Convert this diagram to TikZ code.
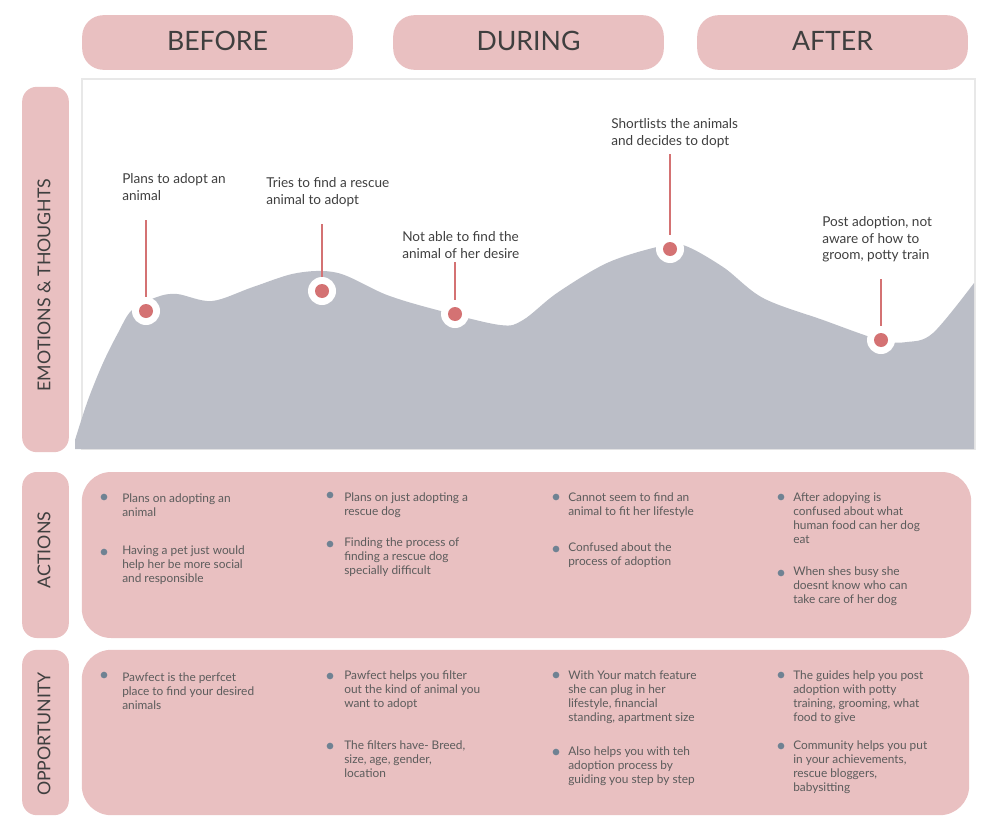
\documentclass[tikz,border=0pt]{standalone}
\usepackage{fontspec}
\setmainfont{Lato}
\definecolor{pinkbox}{HTML}{E9C0C1}
\definecolor{mount}{HTML}{BBBEC7}
\definecolor{reddot}{HTML}{D47273}
\definecolor{txt}{HTML}{3F3F3F}
\definecolor{bul}{HTML}{6F8293}
\definecolor{frame}{HTML}{E8E8E8}
\begin{document}
\begin{tikzpicture}[x=0.75pt,y=-0.75pt,
  hdr/.style={fill=pinkbox, rounded corners=16pt, minimum width=203pt, minimum height=41pt, inner sep=0pt, font=\fontsize{20}{24}\selectfont, text=txt},
  hdrtxt/.style={inner sep=0pt, font=\fontsize{20}{24}\selectfont, text=txt},
  side/.style={fill=pinkbox, rounded corners=11pt, rotate=90, minimum height=35pt, inner sep=0pt},
  sidetxt/.style={rotate=90, inner sep=0pt, font=\fontsize{13.3}{16}\selectfont, text=txt},
  bigbox/.style={fill=pinkbox, rounded corners=22pt, inner sep=0pt},
  lbl/.style={anchor=north west, inner sep=0pt, align=left, text=txt, font=\fontsize{10.2}{12.6}\selectfont},
  item/.style={anchor=north west, inner sep=0pt, align=left, text=txt!85, font=\fontsize{8.9}{10.5}\selectfont},
  bdot/.style={circle, fill=bul, minimum size=5pt, inner sep=0pt},
  ring/.style={circle, fill=white, minimum size=21pt, inner sep=0pt},
  dot/.style={circle, fill=reddot, minimum size=10.5pt, inner sep=0pt},
  stem/.style={draw=reddot, line width=1.5pt}
]
\useasboundingbox (0,0) rectangle (994,838);

% headers
\node[hdr] (before) at (217.5,42.5) {};
\node[hdr] (during) at (528.5,42.5) {};
\node[hdr] (after) at (832.5,42.5) {};
\node[hdrtxt] (beforet) at (217.5,40.5) {BEFORE};
\node[hdrtxt] (duringt) at (528.5,40.5) {DURING};
\node[hdrtxt] (aftert) at (832.5,40.5) {AFTER};

% side labels
\node[side, minimum width=274pt] (emo) at (45.5,269.5) {};
\node[side, minimum width=124.5pt] (act) at (45.5,555) {};
\node[side, minimum width=124pt] (opp) at (45.5,732.5) {};
\node[sidetxt] (emot) at (44,285) {EMOTIONS \& THOUGHTS};
\node[sidetxt] (actt) at (44,550) {ACTIONS};
\node[sidetxt] (oppt) at (44,734) {OPPORTUNITY};

% chart frame
\draw[frame, line width=1.5pt] (82,79) rectangle (975,449);

% mountain
\fill[mount] (75,449) -- plot[smooth, tension=0.55] coordinates {(75,440) (88,400) (103,363) (118,333) (132,310) (157,297) (177,294) (212,301) (253,287) (297,273) (338,273) (387,295) (437,310) (500,325) (523,320) (557,293) (607,263) (657,247) (683,245) (723,267) (763,298) (823,320) (880,340) (907,342) (933,333) (974,283)} -- (974,449) -- cycle;

% markers
\coordinate (t1) at (146,220);
\coordinate (t2) at (322,224);
\coordinate (t3) at (455,262);
\coordinate (t4) at (670,154);
\coordinate (t5) at (881,279);
\node[ring] (r1) at (146,311) {};
\node[ring] (r2) at (322,291) {};
\node[ring] (r3) at (455,314) {};
\node[ring] (r4) at (670,249) {};
\node[ring] (r5) at (881,340) {};
\draw[stem] (t1) -- (r1.north);
\draw[stem] (t2) -- (r2.north);
\draw[stem] (t3) -- (r3.north);
\draw[stem] (t4) -- (r4.north);
\draw[stem] (t5) -- (r5.north);
\node[dot] (d1) at (r1) {};
\node[dot] (d2) at (r2) {};
\node[dot] (d3) at (r3) {};
\node[dot] (d4) at (r4) {};
\node[dot] (d5) at (r5) {};

\node[lbl] (l1) at (122,173) {Plans to adopt an\\animal};
\node[lbl] (l2) at (266,177) {Tries to find a rescue\\animal to adopt};
\node[lbl] (l3) at (402,231) {Not able to find the\\animal of her desire};
\node[lbl] (l4) at (611,118.5) {Shortlists the animals\\and decides to dopt};
\node[lbl] (l5) at (822,216) {Post adoption, not\\aware of how to\\groom, potty train};

% big boxes
\node[bigbox, minimum width=667pt, minimum height=124.5pt] (actbox) at (526.5,555) {};
\node[bigbox, minimum width=665.5pt, minimum height=124pt] (oppbox) at (525.5,732.5) {};

% actions
\node[bdot] (a11) at (104,497) {};
\node[item] (ta11) at (122,493.5) {Plans on adopting an\\animal};
\node[bdot] (a12) at (104,552) {};
\node[item] (ta12) at (122,545.5) {Having a pet just would\\help her be more social\\and responsible};
\node[bdot] (a21) at (330,495) {};
\node[item] (ta21) at (344,492.5) {Plans on just adopting a\\rescue dog};
\node[bdot] (a22) at (330,544) {};
\node[item] (ta22) at (344,537.5) {Finding the process of\\finding a rescue dog\\specially difficult};
\node[bdot] (a31) at (556,497) {};
\node[item] (ta31) at (568,492.5) {Cannot seem to find an\\animal to fit her lifestyle};
\node[bdot] (a32) at (556,549) {};
\node[item] (ta32) at (568,542.5) {Confused about the\\process of adoption};
\node[bdot] (a41) at (781,497) {};
\node[item] (ta41) at (793,492.5) {After adopying is\\confused about what\\human food can her dog\\eat};
\node[bdot] (a42) at (781,573) {};
\node[item] (ta42) at (793,566.5) {When shes busy she\\doesnt know who can\\take care of her dog};

% opportunity
\node[bdot] (o11) at (104,675) {};
\node[item] (to11) at (122,672.5) {Pawfect is the perfcet\\place to find your desired\\animals};
\node[bdot] (o21) at (330,676) {};
\node[item] (to21) at (344,670.5) {Pawfect helps you filter\\out the kind of animal you\\want to adopt};
\node[bdot] (o22) at (330,746) {};
\node[item] (to22) at (344,740.5) {The filters have- Breed,\\size, age, gender,\\location};
\node[bdot] (o31) at (556,675) {};
\node[item] (to31) at (568,670.5) {With Your match feature\\she can plug in her\\lifestyle, financial\\standing, apartment size};
\node[bdot] (o32) at (556,752) {};
\node[item] (to32) at (568,746.5) {Also helps you with teh\\adoption process by\\guiding you step by step};
\node[bdot] (o41) at (781,675) {};
\node[item] (to41) at (793,670.5) {The guides help you post\\adoption with potty\\training, grooming, what\\food to give};
\node[bdot] (o42) at (781,746) {};
\node[item] (to42) at (793,740.5) {Community helps you put\\in your achievements,\\rescue bloggers,\\babysitting};
\end{tikzpicture}
\end{document}
